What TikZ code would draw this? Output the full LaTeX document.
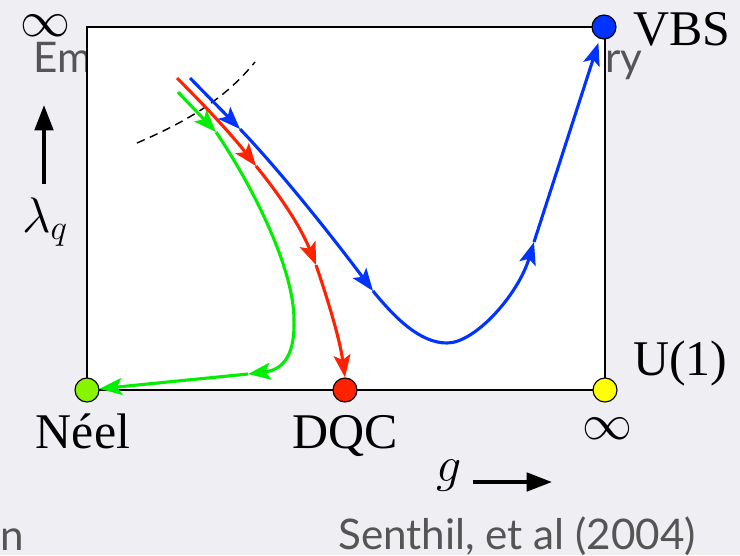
\RequirePackage{fix-cm}
\documentclass[tikz,border=0pt]{standalone}
\usepackage{fontspec}
\setmainfont{Liberation Serif}
\newfontfamily\notefont{Lato}
\usetikzlibrary{arrows.meta, positioning}
\definecolor{slidebg}{HTML}{EEEEF3}
\definecolor{notegray}{HTML}{555555}
\definecolor{flowblue}{HTML}{0033FF}
\definecolor{flowred}{HTML}{FF2200}
\definecolor{flowgreen}{HTML}{00EE00}
\definecolor{neelgreen}{HTML}{88F500}
\definecolor{uoneyellow}{HTML}{FFFF00}

\begin{document}
\begin{tikzpicture}[x=0.025cm, y=-0.025cm,
  fixpt/.style={circle, draw=black, line width=0.8pt, minimum size=0.6cm, inner sep=0pt},
  flowline/.style={line width=2.2pt},
  flow/.style={flowline, -{Stealth[length=16pt,width=12pt,inset=3.5pt]}},
  axisarr/.style={-{Triangle[length=18pt,width=13pt]}, line width=2.8pt},
  lbl/.style={font=\fontsize{35.5}{40}\selectfont, inner sep=0pt},
  note/.style={font=\notefont\fontsize{30}{36}\selectfont, text=notegray, inner sep=0pt},
]
  \fill[slidebg] (0,0) rectangle (740,555);
  \useasboundingbox (0,0) rectangle (740,555);

  % slide text behind the diagram
  \node[note, anchor=base west] (emtext) at (33,72) {Em};
  \node[note, anchor=base east] (rytext) at (643,72) {ry};
  \node[note, anchor=base west] (ntext) at (0,550) {n};
  \node[note, anchor=base west] (cite) at (338,549) {Senthil, et al (2004)};

  \draw[line width=2pt, fill=white] (87,27) rectangle (605,390);

  \node[fixpt, fill=neelgreen]  (neel) at (87,390) {};
  \node[fixpt, fill=flowred]    (dqc)  at (345,390) {};
  \node[fixpt, fill=uoneyellow] (uone) at (605,390) {};
  \node[fixpt, fill=flowblue]   (vbs)  at (604,27) {};

  % flow lines, cut where the arrow heads sit
  \coordinate (g0) at (178,92);  \coordinate (g1) at (216,132);
  \coordinate (g2) at (294,320); \coordinate (g3) at (248,374);
  \coordinate (r0) at (177,78);  \coordinate (r1) at (256,166);
  \coordinate (r2) at (316,265);
  \coordinate (b0) at (190,78);  \coordinate (b1) at (240,129);
  \coordinate (b2) at (373,291); \coordinate (bmin) at (447,343);
  \coordinate (b3) at (534,242);

  \draw[dashed, dash pattern=on 6pt off 4pt, line width=1pt]
    (137,143) .. controls (195,118) and (228,95) .. (255,62);

  \draw[flow, flowgreen] (g0) -- (g1);
  \draw[flowline, flowgreen] (g1) .. controls (255,190) and (294,270) .. (g2);
  \draw[flow, flowgreen] (g2) .. controls (295,360) and (280,370) .. (g3);
  \draw[flow, flowgreen] (g3) -- (neel);

  \draw[flow, flowred] (r0) .. controls (205,106) and (232,135) .. (r1);
  \draw[flow, flowred] (r1) .. controls (278,193) and (300,225) .. (r2);
  \draw[flow, flowred] (r2) .. controls (328,300) and (340,340) .. (dqc.north);

  \draw[flow, flowblue] (b0) -- (b1);
  \draw[flow, flowblue] (b1) .. controls (283,174) and (337,243) .. (b2);
  \draw[flowline, flowblue] (b2) .. controls (395,318) and (420,343) .. (bmin);
  \draw[flow, flowblue] (bmin) .. controls (475,343) and (518,295) .. (b3);
  \draw[flow, flowblue, shorten >=3pt] (b3) -- (vbs.250);

  \node[lbl, anchor=base west] (vbslbl) at (633,45) {VBS};
  \node[lbl, anchor=base west] (uonelbl) at (633,375) {U(1)};
  \node[lbl, anchor=base] (neellbl) at (83,448) {Néel};
  \node[lbl, anchor=base] (dqclbl) at (345,448) {DQC};
  \node[lbl] (infbot) at (607,429) {$\infty$};
  \node[lbl] (inftop) at (45,26) {$\infty$};

  \node[lbl] (lam) at (45,222) {$\lambda_q$};
  \coordinate (lamtail) at (44,184);
  \coordinate (lamtip) at (44,105);
  \draw[axisarr] (lamtail) -- (lamtip);

  \node[lbl] (gsym) at (449,476) {$g$};
  \coordinate (gtail) at (473,482);
  \coordinate (gtip) at (552,482);
  \draw[axisarr] (gtail) -- (gtip);
\end{tikzpicture}
\end{document}
